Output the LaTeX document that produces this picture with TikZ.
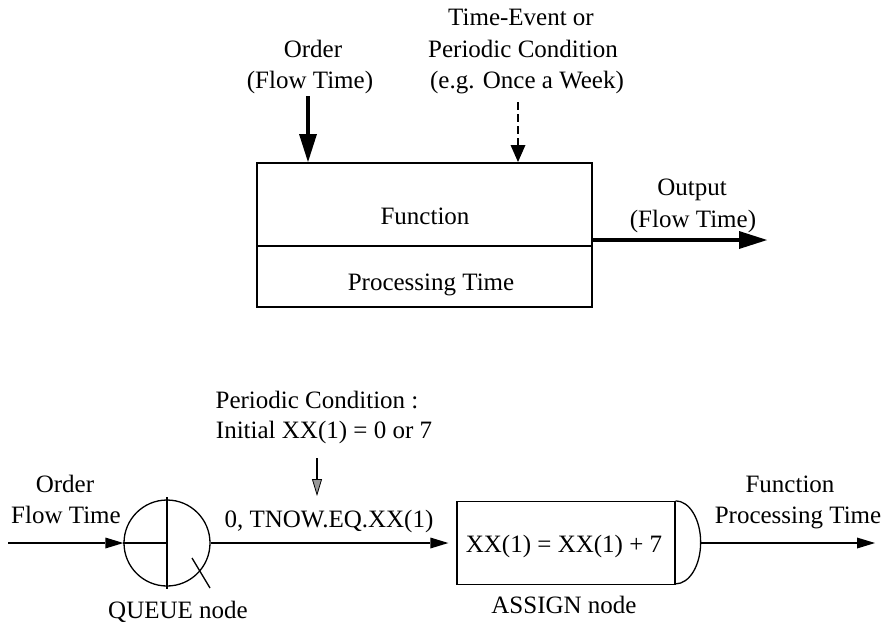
\documentclass[tikz,border=0pt]{standalone}
\usepackage{fontspec}
\setmainfont{Liberation Serif}
\usetikzlibrary{arrows.meta}
\begin{document}
\begin{tikzpicture}[x=1pt,y=-1pt,
  every node/.style={font=\fontsize{25}{30}\selectfont, inner sep=0pt},
  lbl/.style={anchor=base},
  frame/.style={draw, line width=2pt},
  thinframe/.style={draw, line width=1.3pt},
  boldflow/.style={line width=4.5pt, -{Triangle[length=28pt,width=18pt,line width=0pt]}},
  eventflow/.style={line width=1.3pt, dash pattern=on 8pt off 4pt,
    -{Triangle[length=17pt,width=15pt,line width=0pt]}},
  flow/.style={line width=1.4pt, -{Triangle[length=18pt,width=11pt,line width=0pt]}},
  condflow/.style={line width=1.3pt, -{Triangle[length=17pt,width=10pt,fill=black!40,line width=0.8pt]}}]

% page area
\fill[white] (0,0) rectangle (888,633);
\useasboundingbox (0,0) rectangle (888,633);

% ---------- upper diagram: function block ----------
\node[frame, minimum width=335pt, minimum height=83pt] (fnbox) at (424.5,204.5) {};
\node[frame, minimum width=335pt, minimum height=61pt] (ptbox) at (424.5,276.5) {};
\node[lbl] (fnlbl) at (425,224) {Function};
\node[lbl] (ptlbl) at (431,290) {Processing Time};

\node[lbl] (ordlbl1) at (313,57) {Order};
\node[lbl] (ordlbl2) at (310,88) {(Flow Time)};
\node[lbl] (evlbl1) at (521,25) {Time-Event or};
\node[lbl] (evlbl2) at (523,57) {Periodic Condition};
\node[lbl] (evlbl3) at (527,88) {(e.g. Once a Week)};
\node[lbl] (outlbl1) at (692,195) {Output};
\node[lbl] (outlbl2) at (693,227) {(Flow Time)};

\coordinate (ordsrc) at (308,96);
\coordinate (evsrc) at (518,102);
\coordinate (outend) at (767,240);
\draw[boldflow] (ordsrc) -- (ordsrc |- fnbox.north);
\draw[eventflow] (evsrc) -- (evsrc |- fnbox.north);
\draw[boldflow] (outend -| fnbox.east) -- (outend);

% ---------- lower diagram: QUEUE and ASSIGN nodes ----------
\node[thinframe, circle, minimum size=86pt] (queue) at (167,543) {};
\draw[line width=1.3pt] ([yshift=2pt]queue.north) -- ([yshift=-2pt]queue.south);
\draw[line width=1.3pt] (queue.west) -- (queue.center);
\draw[line width=1.3pt] (queue.center) ++(25,15) -- ++(18,30);

\node[thinframe, minimum width=218pt, minimum height=83pt] (assign) at (566,543) {};
\draw[line width=1.3pt] (assign.north east)
  arc[start angle=90, end angle=-90, x radius=25pt, y radius=41.5pt];
\coordinate (capE) at ([xshift=25pt]assign.east);

\coordinate (qsrc) at (8,543);
\coordinate (fnend) at (875,543);
\coordinate (condsrc) at (317,458);
\coordinate (condend) at (317,496);

\draw[flow] (qsrc) -- (queue.west);
\draw[flow, shorten >=8pt] (queue.east) -- (assign.west);
\draw[flow] (capE) -- (fnend);
\draw[condflow] (condsrc) -- (condend);

\node[lbl] (qordlbl1) at (65,492) {Order};
\node[lbl] (qordlbl2) at (66,523) {Flow Time};
\node[lbl] (qlbl) at (178,618) {QUEUE node};
\node[lbl] (condlbl1) at (317,408) {Periodic Condition :};
\node[lbl] (condlbl2) at (324,438) {Initial XX(1) = 0 or 7};
\node[lbl] (branchlbl) at (329,527) {0, TNOW.EQ.XX(1)};
\node[lbl] (asglbl) at (564,552) {XX(1) = XX(1) + 7};
\node[lbl] (asgname) at (564,613) {ASSIGN node};
\node[lbl] (fnout1) at (790,492) {Function};
\node[lbl] (fnout2) at (798,523) {Processing Time};
\end{tikzpicture}
\end{document}
